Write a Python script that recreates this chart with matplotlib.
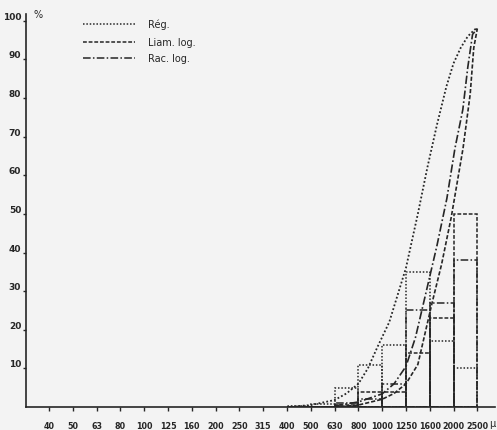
import matplotlib.pyplot as plt
import numpy as np

# size classes (microns), drawn at equal spacing
classes = ['40', '50', '63', '80', '100', '125', '160', '200', '250', '315',
           '400', '500', '630', '800', '1000', '1250', '1600', '2000', '2500']

# histogram bins, each from class bin_lo to the next class
bin_lo = ['400', '500', '630', '800', '1000', '1250', '1600', '2000']
reg_hist = [0.3, 0.8, 5, 11, 16, 35, 17, 10]
liam_hist = [0, 0, 0.5, 4, 4, 14, 23, 50]
rac_hist = [0, 0, 1, 2, 6, 25, 27, 38]

# cumulative curves: (position on the class axis, percent)
reg_x = [10, 11, 12, 12.5, 13, 13.4, 13.8, 14.3, 14.65, 15, 15.5, 15.9, 16.3,
         16.7, 17.0, 17.3, 17.6, 17.9, 18]
reg_y = [0, 0.5, 1.8, 3.5, 6, 10, 15.5, 22, 29, 36, 50, 62, 73,
         83, 89, 93, 96, 97.8, 98]
liam_x = [12, 13, 14, 14.5, 15, 15.5, 16.1, 16.5, 16.9, 17.4, 17.7, 17.85, 18]
liam_y = [0, 0.5, 2, 3.5, 6, 11, 27, 37, 49, 67, 81, 93, 98]
rac_x = [12, 13, 14, 14.5, 15, 15.4, 15.8, 16.3, 16.72, 17.06, 17.39, 17.6,
         17.8, 18]
rac_y = [0.3, 1.3, 3.4, 6, 10.5, 18, 28.5, 41.7, 54, 67, 77, 88, 96.5, 98]

ink = '#262626'
bg = '#f3f3f3'
fam = ['Liberation Sans Narrow', 'DejaVu Sans']

styles = {
    'reg': (0, (1, 1.2)),
    'liam': (0, (2.5, 1.2)),
    'rac': (0, (5, 1.5, 1, 1.5)),
}

fig = plt.figure(figsize=(4.97, 4.31), dpi=100, facecolor=bg)
ax = fig.add_axes([0.0523, 0.0534, 0.944, 0.912])
ax.set_facecolor(bg)

pos = {c: i for i, c in enumerate(classes)}
left = [pos[b] for b in bin_lo]

for hist, key in [(reg_hist, 'reg'), (liam_hist, 'liam'), (rac_hist, 'rac')]:
    ax.bar(left, hist, width=1, align='edge', fill=False, edgecolor=ink,
           linewidth=1.1, linestyle=styles[key])

ax.plot(reg_x, reg_y, color=ink, lw=1.3, linestyle=styles['reg'])
ax.plot(liam_x, liam_y, color=ink, lw=1.2, linestyle=styles['liam'])
ax.plot(rac_x, rac_y, color=ink, lw=1.2, linestyle=styles['rac'])

ax.set_xlim(-0.97, 18.75)
ax.set_ylim(0, 101.8)

for s in ['top', 'right']:
    ax.spines[s].set_visible(False)
for s in ['left', 'bottom']:
    ax.spines[s].set_color(ink)
    ax.spines[s].set_linewidth(1.2)

ax.set_xticks(range(len(classes)))
ax.set_xticklabels(classes, family=fam, fontsize=5.8, fontweight='bold', color=ink)
ax.tick_params(axis='x', direction='out', length=3, width=1, pad=7, colors=ink)

yt = list(range(10, 101, 10))
ax.set_yticks(yt)
ax.set_yticklabels([str(v) for v in yt], family=fam, fontsize=6.5,
                   fontweight='bold', color=ink)
ax.tick_params(axis='y', direction='out', length=2.5, width=1, pad=1, colors=ink)
for lab in ax.get_yticklabels():
    lab.set_va('bottom')

fig.text(33 / 497, 1 - 15 / 431, '%', family=fam, fontsize=7, color=ink,
         va='center', ha='left')
fig.text(489 / 497, 1 - 424 / 431, 'µ', family=fam, fontsize=7, color=ink,
         va='center', ha='left')

# legend drawn by hand at the top
leg = [('Rég.', 'reg', 25), ('Liam. log.', 'liam', 43), ('Rac. log.', 'rac', 59)]
for label, key, ypx in leg:
    yy = 1 - ypx / 431
    fig.add_artist(plt.Line2D([83 / 497, 135 / 497], [yy, yy], color=ink,
                              lw=1.1, linestyle=styles[key],
                              transform=fig.transFigure))
    fig.text(148 / 497, yy, label, family=fam, fontsize=7, color=ink,
             va='center', ha='left')

fig.savefig('out.png', dpi=100, facecolor=bg)
